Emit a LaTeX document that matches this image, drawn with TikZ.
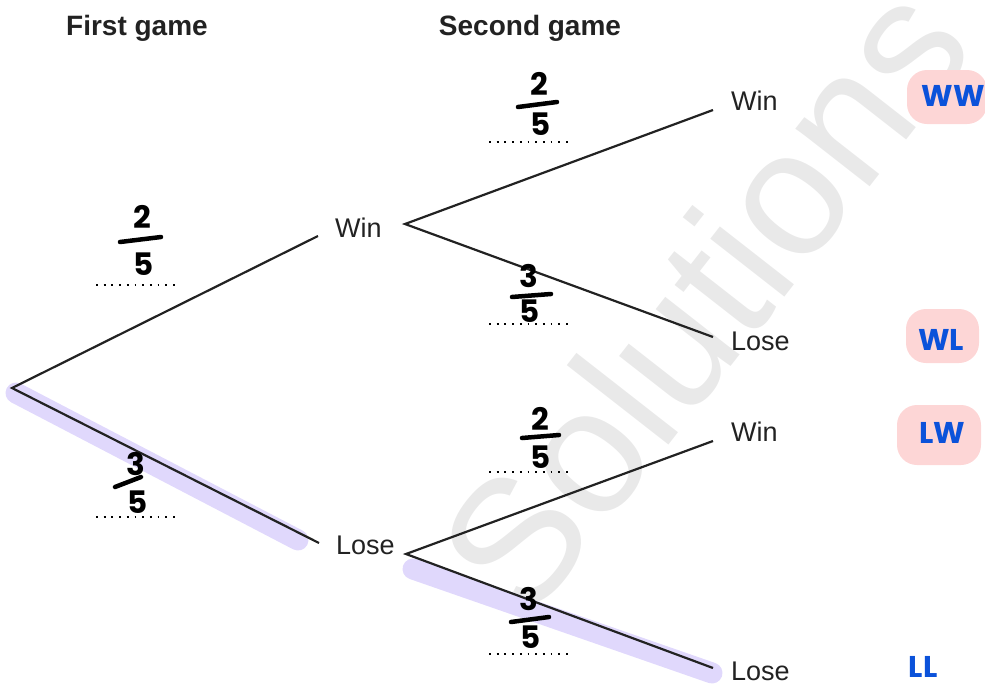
\documentclass[tikz,border=0pt]{standalone}
\usepackage{fontspec}
\setmainfont{Liberation Sans}
\newfontfamily\hand{Poppins}
\definecolor{ink}{HTML}{222222}
\definecolor{hlc}{HTML}{E0D8FC}
\definecolor{pinkbg}{HTML}{FDD6D6}
\definecolor{ansblue}{HTML}{0B52DA}
\definecolor{wm}{HTML}{E9E9E9}
\begin{document}
\begin{tikzpicture}[x=1pt,y=-1pt,
  branch/.style={line width=2.2pt, draw=ink},
  hl/.style={line width=21pt, draw=hlc, line cap=round},
  lbl/.style={inner sep=0pt, anchor=west, text=ink, font=\fontsize{27}{32}\selectfont},
  head/.style={inner sep=0pt, anchor=base, text=ink, font=\bfseries\fontsize{28}{32}\selectfont},
  digit/.style={inner sep=0pt, font=\hand\bfseries\fontsize{31}{31}\selectfont},
  bar/.style={line width=4.5pt, line cap=round},
  dotline/.style={line width=1.8pt, dash pattern=on 1.8pt off 5.9pt},
  ans/.style={inner sep=0pt, text=ansblue, font=\hand\bfseries\fontsize{30}{30}\selectfont},
  blob/.style={fill=pinkbg, rounded corners=20pt}]
\useasboundingbox (0,0) rectangle (985,683);
% watermark
\node[rotate=52, text=wm, inner sep=0pt, font=\fontsize{178}{178}\selectfont] (wmk) at (703,298) {Solutions};
% headers
\node[head] (h1) at (137,35) {First game};
\node[head] (h2) at (530,35) {Second game};
% highlights
\coordinate (hla) at (16,393);
\coordinate (hlb) at (298,540);
\coordinate (hlc1) at (413,569);
\coordinate (hld) at (712,673);
\draw[hl] (hla) -- (hlb);
\draw[hl] (hlc1) -- (hld);
% tree points
\coordinate (root) at (12,388);
\coordinate (w1in) at (318,236);
\coordinate (w1out) at (405,224);
\coordinate (l1in) at (319,543);
\coordinate (l1out) at (406,554);
\coordinate (ww) at (713,110);
\coordinate (wl) at (713,337);
\coordinate (lw) at (713,441);
\coordinate (ll) at (713,668);
\draw[branch] (w1in) -- (root) -- (l1in);
\draw[branch] (ww) -- (w1out) -- (wl);
\draw[branch] (lw) -- (l1out) -- (ll);
% labels
\node[lbl] (W1) at (335,228) {Win};
\node[lbl] (L1) at (336,545) {Lose};
\node[lbl] (W2) at (731,101) {Win};
\node[lbl] (L2) at (731,341) {Lose};
\node[lbl] (W3) at (731,432) {Win};
\node[lbl] (L3) at (731,671) {Lose};
% fraction 1 (2/5 top-left)
\node[digit] (f1n) at (142,217) {2};
\draw[bar] (120,242) -- (161,237);
\node[digit] (f1d) at (144,264) {5};
\draw[dotline] (96,285) -- (180,285);
% fraction 2 (2/5 top)
\node[digit] (f2n) at (539,84) {2};
\draw[bar] (518,107) -- (557,102);
\node[digit] (f2d) at (541,124) {5};
\draw[dotline] (489,142) -- (573,142);
% fraction 3 (3/5)
\node[digit] (f3n) at (529,276) {3};
\draw[bar] (512,297) -- (551,294);
\node[digit] (f3d) at (530,311) {5};
\draw[dotline] (489,324) -- (573,324);
% fraction 4 (2/5)
\node[digit] (f4n) at (540,419) {2};
\draw[bar] (522,438) -- (559,435);
\node[digit] (f4d) at (541,457) {5};
\draw[dotline] (489,472) -- (573,472);
% fraction 5 (3/5 left)
\node[digit] (f5n) at (136,464) {3};
\draw[bar] (115,487) -- (141,477);
\node[digit] (f5d) at (138,502) {5};
\draw[dotline] (96,517) -- (180,517);
% fraction 6 (3/5 bottom)
\node[digit] (f6n) at (529,599) {3};
\draw[bar] (511,622) -- (549,617);
\node[digit] (f6d) at (531,637) {5};
\draw[dotline] (489,654) -- (573,654);
% answers
\fill[blob] (907,70) rectangle (987,124);
\fill[blob] (906,309) rectangle (979,363);
\fill[blob] (897,405) rectangle (981,465);
\node[ans] (aww) at (953,96) {WW};
\node[ans] (awl) at (941,340) {WL};
\node[ans] (alw) at (942,433) {LW};
\node[ans] (all) at (923,667) {LL};
\end{tikzpicture}
\end{document}
